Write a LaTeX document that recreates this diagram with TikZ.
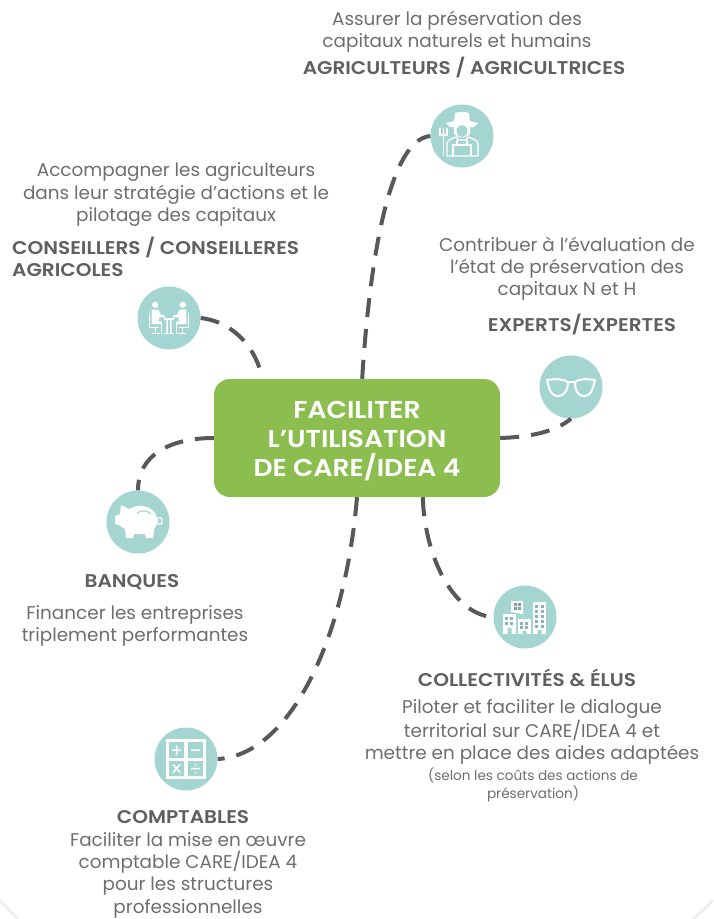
\documentclass[tikz,border=0pt]{standalone}
\usepackage{fontspec}
\setmainfont{Poppins}
\newfontfamily\headfont[FakeStretch=1.09]{Poppins SemiBold}
\definecolor{txt}{HTML}{6D6E70}
\definecolor{head}{HTML}{5F6062}
\definecolor{green1}{HTML}{8BBD4F}
\definecolor{teal1}{HTML}{A5D5D1}
\definecolor{dash1}{HTML}{58585A}
\definecolor{edge1}{HTML}{EFEFEF}
\tikzset{
  x=1pt,y=-1pt,
  body/.style={text=txt,align=center,inner sep=0pt,font=\fontsize{18.4}{22.3}\selectfont},
  small/.style={text=txt,align=center,inner sep=0pt,font=\fontsize{13.6}{18}\selectfont},
  heading/.style={text=head,align=center,inner sep=0pt,font=\fontsize{18.4}{22}\selectfont\headfont},
  disc/.style={circle,fill=teal1,minimum size=63pt,inner sep=0pt},
  conn/.style={draw=dash1,line width=4pt,dash pattern=on 19pt off 12pt},
  icon/.style={white,line width=1.3pt},
}
\begin{document}
\begin{tikzpicture}
\useasboundingbox (0,0) rectangle (713,919);
\fill[white] (0,0) rectangle (713,919);
\draw[edge1,line width=3pt] (0,900) .. controls (6,907) and (12,913) .. (18,919);
\draw[edge1,line width=3pt] (713,900) .. controls (707,907) and (700,913) .. (693,919);

\node[rectangle,rounded corners=16pt,fill=green1,minimum width=286pt,minimum height=118pt,inner sep=0pt] (box) at (357,438) {};
\node[text=white,align=center,inner sep=0pt,font=\fontsize{24.4}{28.6}\selectfont\headfont] (title) at (357,441) {FACILITER\\L’UTILISATION\\DE CARE/IDEA 4};

\node[disc] (agri) at (462,136) {};
\node[disc] (cons) at (169,318) {};
\node[disc] (expe) at (571,387) {};
\node[disc] (bank) at (138,522) {};
\node[disc] (coll) at (525,617) {};
\node[disc] (comp) at (186,759) {};

\draw[conn] (box.85) .. controls (368,285) and (385,140) .. (agri.west);
\draw[conn] (cons.east) .. controls (235,322) and (257,350) .. (box.148);
\draw[conn] (box.east) .. controls (530,437) and (555,432) .. (expe.south);
\draw[conn] (box.west) .. controls (170,438) and (138,455) .. (bank.north);
\draw[conn] (box.-42) .. controls (425,560) and (455,615) .. (coll.west);
\draw[conn] (box.south) .. controls (345,640) and (290,755) .. (comp.east);

% farmer
\begin{scope}[shift={(agri.center)}]
  \fill[white] (-16,-13) -- (-8,-15) -- (-7,-23) .. controls (-3,-24.5) and (3,-24.5) .. (7,-23) -- (8,-15) -- (16,-13) -- (12,-9) -- (-12,-9) -- cycle;
  \fill[white] (-8,-9) -- (8,-9) -- (8,-3) .. controls (6,3) and (-6,3) .. (-8,-3) -- cycle;
  \fill[teal1] (0,-5) ellipse (5.5 and 6);
  \draw[icon,line width=1.3pt,line join=round] (-15,20) -- (-15,8) .. controls (-15,4) and (-11,3) .. (-6,1) -- (-3,4) -- (4,4) -- (6,1) .. controls (11,3) and (16,4) .. (16,8) -- (16,20) -- cycle;
  \draw[icon,line width=1.3pt] (-9,8) -- (-9,20) (9,8) -- (9,20) (-9,9) -- (9,9) (-5,4) -- (-5,9) (5,4) -- (5,9);
  \draw[icon,line width=1.2pt] (-22,-8) -- (-22,-1) -- (-15,-1) -- (-15,-8) (-18.5,-8) -- (-18.5,20);
\end{scope}

% meeting
\begin{scope}[shift={(cons.center)},scale=1.2]
  \fill[white] (-11.5,-11) circle (2.6) (11.5,-11) circle (2.6);
  \fill[white] (-14.5,-7) -- (-9,-7) -- (-6.5,-2.5) -- (-3.5,-2) -- (-3.5,-.6) -- (-8,-.6) -- (-8.5,3) -- (-6,3) -- (-6,5) -- (-14.5,5) -- cycle;
  \fill[white] (14.5,-7) -- (9,-7) -- (6.5,-2.5) -- (3.5,-2) -- (3.5,-.6) -- (8,-.6) -- (8.5,3) -- (6,3) -- (6,5) -- (14.5,5) -- cycle;
  \draw[icon,line width=.9pt] (-16.5,-4) -- (-16.5,7.5) -- (-8,7.5) (-11,7.5) -- (-11,13) (-14.5,13) -- (-7.5,13) (-6.5,5) -- (-6.5,13);
  \draw[icon,line width=.9pt] (16.5,-4) -- (16.5,7.5) -- (8,7.5) (11,7.5) -- (11,13) (14.5,13) -- (7.5,13) (6.5,5) -- (6.5,13);
  \fill[white] (-4.5,0) rectangle (4.5,1.4);
  \fill[white] (-2.2,1.4) rectangle (-1,12.5) (1,1.4) rectangle (2.2,12.5);
  \fill[white] (-3.8,12.5) rectangle (3.8,13.5);
\end{scope}

% glasses
\begin{scope}[shift={(expe.center)}]
  \draw[icon,line width=2pt,line join=round] (-24,-7) .. controls (-14,-8.5) and (-8,-8) .. (-3,-5) .. controls (-3,2) and (-6,9) .. (-13,9) .. controls (-21,9) and (-22,0) .. (-24,-7) -- cycle;
  \draw[icon,line width=2pt,line join=round] (24,-7) .. controls (14,-8.5) and (8,-8) .. (4,-5) .. controls (4,2) and (6,9) .. (13,9) .. controls (21,9) and (22,0) .. (24,-7) -- cycle;
  \draw[icon,line width=2.4pt] (-3,-5) -- (4,-5);
\end{scope}

% piggy bank
\begin{scope}[shift={(bank.center)},xshift=5pt]
  \fill[white] (-22,-17) -- (-14,-13) .. controls (-5,-18) and (6,-17) .. (12,-9) .. controls (15,-5) and (15,3) .. (11,7) -- (10,16) -- (3,16) -- (2,12) -- (-9,12) -- (-10,16) -- (-17,16) -- (-18,7) -- (-24,3) -- (-28,2) -- (-28,-6) -- (-23,-8) -- cycle;
  \draw[teal1,line width=1.2pt] (-6,-9) .. controls (-1,-12) and (4,-12) .. (8,-8);
  \draw[icon,line width=1pt] (13,-1) .. controls (14,1) and (15,1) .. (15,-1);
  \draw[icon,line width=1.1pt,rounded corners=1pt] (14,-4) rectangle (19,2);
\end{scope}

% buildings
\begin{scope}[shift={(coll.center)}]
  \fill[white] (-14,-16) -- (-2,-16) -- (-2,-3) -- (-14,-5) -- cycle;
  \fill[white] (-22,-3) rectangle (-9,17);
  \fill[white] (-7,2) rectangle (6,17);
  \fill[white] (8,-15) rectangle (21,17);
  \foreach \wx in {-11,-7}\foreach \wy in {-14,-10}{\fill[teal1!75!black] (\wx,\wy) rectangle (\wx+2.6,\wy+2.6);}
  \foreach \wx in {-20,-15}\foreach \wy in {0,5}{\fill[teal1!85!black] (\wx,\wy) rectangle (\wx+3,\wy+3);}
  \foreach \wx in {-5,0}\foreach \wy in {5,9}{\fill[teal1!85!black] (\wx,\wy) rectangle (\wx+3,\wy+3);}
  \foreach \wx in {10,15.5}\foreach \wy in {-12,-7,-2,3,8}{\fill[teal1!85!black] (\wx,\wy) rectangle (\wx+3,\wy+3);}
  \fill[teal1] (-17.5,11) rectangle (-13.5,17) (-2.5,14) rectangle (1.5,17) (12.5,13) rectangle (16.5,17);
\end{scope}

% calculator
\begin{scope}[shift={(comp.center)}]
  \fill[white] (-20,-20) rectangle (20,20);
  \fill[teal1] (-17,-17) rectangle (-2,-1) (2,-17) rectangle (17,-1) (-17,2) rectangle (-2,17) (2,2) rectangle (17,17);
  \draw[icon,line width=1.5pt] (-14,-9) -- (-5,-9) (-9.5,-14) -- (-9.5,-4) (5,-9) -- (14,-9) (5,9.5) -- (14,9.5) (-13,5.5) -- (-6,13.5) (-6,5.5) -- (-13,13.5);
  \fill[white] (9.5,5.5) circle (1) (9.5,13.5) circle (1);
\end{scope}

% texts
\node[body] (t1) at (457,32) {Assurer la préservation des\\capitaux naturels et humains};
\node[heading] (h1) at (464,67) {AGRICULTEURS / AGRICULTRICES};
\node[body] (t2) at (176,194.5) {Accompagner les agriculteurs\\dans leur stratégie d’actions et le\\pilotage des capitaux};
\node[heading,align=left,anchor=west] (h2) at (12,257) {CONSEILLERS / CONSEILLERES\\AGRICOLES};
\node[body] (t3) at (567,268.5) {Contribuer à l’évaluation de\\l’état de préservation des\\capitaux N et H};
\node[heading] (h3) at (582,324) {EXPERTS/EXPERTES};
\node[heading] (h4) at (132,582) {BANQUES};
\node[body] (t4) at (135,626) {Financer les entreprises\\triplement performantes};
\node[heading] (h5) at (527,678) {COLLECTIVITÉS \& ÉLUS};
\node[body] (t5) at (532,732) {Piloter et faciliter le dialogue\\territorial sur CARE/IDEA 4  et\\mettre en place des aides adaptées};
\node[small] (t5b) at (533,785) {(selon les coûts des actions de\\préservation)};
\node[heading] (h6) at (183,817.5) {COMPTABLES};
\node[body] (t6) at (188,875) {Faciliter la mise en œuvre\\comptable CARE/IDEA 4\\pour les structures\\professionnelles};
\end{tikzpicture}
\end{document}
